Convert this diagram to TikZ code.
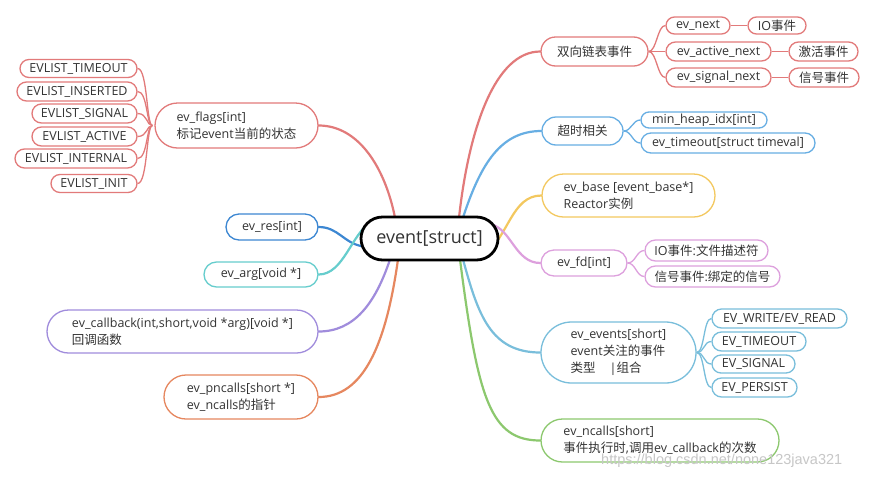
\documentclass[tikz,border=0pt]{standalone}
\usepackage{fontspec}
\setmainfont{Open Sans}
\newfontfamily\cjk{Noto Sans CJK SC}
\newfontfamily\wmfont{Liberation Sans}
\pgfdeclarelayer{bg}
\pgfsetlayers{bg,main}
\definecolor{txt}{HTML}{333333}
\definecolor{cR}{HTML}{E27A7A}
\definecolor{cB}{HTML}{67AEE3}
\definecolor{cY}{HTML}{F3C85F}
\definecolor{cP}{HTML}{DDA0DD}
\definecolor{cE}{HTML}{79BEDB}
\definecolor{cG}{HTML}{8CC86E}
\definecolor{cD}{HTML}{3C87D2}
\definecolor{cT}{HTML}{66CDCD}
\definecolor{cV}{HTML}{A08CDC}
\definecolor{cO}{HTML}{E6875F}
\tikzset{
  box/.style={draw, fill=white, inner sep=0pt, align=left, text=txt,
    font=\fontsize{12.5}{17}\selectfont, line width=1.3pt},
  pill/.style 2 args={minimum width=#1pt, minimum height=#2pt, rounded corners={#2pt/2}},
  branch/.style={line width=2.2pt, line cap=round},
  twig/.style={line width=1.3pt},
}
\begin{document}
\begin{tikzpicture}[x=1pt,y=-1pt]
\useasboundingbox (0,0) rectangle (874,477);

% centre
\node[box, pill={137}{43}, line width=2.8pt, draw=black, font=\fontsize{18}{22}\selectfont] (cen) at (429.5,238.5) {event[struct]};

% left side
\node[box, draw=cR, pill={163}{45}] (flags) at (236.5,125.5) {ev\_flags[int]\\{\cjk 标记}event{\cjk 当前的状态}};
\node[box, draw=cR, pill={117}{18}] (f1) at (78.5,68.5) {EVLIST\_TIMEOUT};
\node[box, draw=cR, pill={120}{19}] (f2) at (77,91.5) {EVLIST\_INSERTED};
\node[box, draw=cR, pill={105}{19}] (f3) at (84.5,113.5) {EVLIST\_SIGNAL};
\node[box, draw=cR, pill={105}{19}] (f4) at (84.5,136.5) {EVLIST\_ACTIVE};
\node[box, draw=cR, pill={122}{19}] (f5) at (76,158.5) {EVLIST\_INTERNAL};
\node[box, draw=cR, pill={86}{18}] (f6) at (94,183.5) {EVLIST\_INIT};

\node[box, draw=cD, pill={92}{26}] (res) at (272,227) {ev\_res[int]};
\node[box, draw=cT, pill={114}{25}] (arg) at (261,274.5) {ev\_arg[void *]};
\node[box, draw=cV, pill={271}{43}] (cb) at (182.5,331.5) {ev\_callback(int,short,void *arg)[void *]\\{\cjk 回调函数}};
\node[box, draw=cO, pill={154}{44}] (pn) at (241,397) {ev\_pncalls[short *]\\ev\_ncalls{\cjk 的指针}};

% right side
\node[box, draw=cR, pill={107}{29}] (dl) at (594.5,51.5) {{\cjk 双向链表事件}};
\node[box, draw=cR, pill={64}{17}] (n1) at (698,25.5) {ev\_next};
\node[box, draw=cR, pill={58}{17}] (m1) at (777,25.5) {IO{\cjk 事件}};
\node[box, draw=cR, pill={105}{19}] (n2) at (718.5,51.5) {ev\_active\_next};
\node[box, draw=cR, pill={69}{19}] (m2) at (823.5,51.5) {{\cjk 激活事件}};
\node[box, draw=cR, pill={105}{19}] (n3) at (718.5,77.5) {ev\_signal\_next};
\node[box, draw=cR, pill={70}{19}] (m3) at (824,77.5) {{\cjk 信号事件}};

\node[box, draw=cB, pill={81}{28}] (to) at (582.5,131) {{\cjk 超时相关}};
\node[box, draw=cB, pill={126}{16}] (to1) at (704,120) {min\_heap\_idx[int]};
\node[box, draw=cB, pill={174}{20}] (to2) at (728,143) {ev\_timeout[struct timeval]};

\node[box, draw=cY, pill={173}{43}] (base) at (628.5,195.5) {ev\_base [event\_base*]\\Reactor{\cjk 实例}};

\node[box, draw=cP, pill={86}{26}] (fd) at (584,263) {ev\_fd[int]};
\node[box, draw=cP, pill={123}{21}] (fd1) at (706.5,250.5) {IO{\cjk 事件}:{\cjk 文件描述符}};
\node[box, draw=cP, pill={135}{21}] (fd2) at (712.5,276.5) {{\cjk 信号事件}:{\cjk 绑定的信号}};

\node[box, draw=cE, pill={155}{61}] (ev) at (618.5,352.5) {ev\_events[short]\\event{\cjk 关注的事件}\\{\cjk 类型}\hspace{14pt}|{\cjk 组合}};
\node[box, draw=cE, pill={135}{19}] (e1) at (779.5,318.5) {EV\_WRITE/EV\_READ};
\node[box, draw=cE, pill={94}{19}] (e2) at (759,341.5) {EV\_TIMEOUT};
\node[box, draw=cE, pill={83}{18}] (e3) at (753.5,364) {EV\_SIGNAL};
\node[box, draw=cE, pill={85}{19}] (e4) at (754.5,387.5) {EV\_PERSIST};

\node[box, draw=cG, pill={238}{43}] (nc) at (660,440.5) {ev\_ncalls[short]\\{\cjk 事件执行时},{\cjk 调用}ev\_callback{\cjk 的次数}};

\node[text=black!22, font=\wmfont\fontsize{14.5}{16}\selectfont, anchor=base west, inner sep=0pt] (wm) at (601,464) {https://blog.csdn.net/none123java321};

\begin{pgfonlayer}{bg}
\fill[white] (0,0) rectangle (874,477);
% main branches
\draw[branch, cR] ([xshift=-34.5pt,yshift=-2pt]cen.north) .. controls +(-10,-50) and +(40,0) .. (flags.east);
\draw[branch, cR] ([xshift=29.5pt,yshift=-2pt]cen.north) .. controls +(10,-90) and +(-45,0) .. (dl.west);
\draw[branch, cB] ([xshift=33.5pt,yshift=-2pt]cen.north) .. controls +(18,-55) and +(-40,0) .. (to.west);
\draw[branch, cY] ([xshift=54pt,yshift=-17pt]cen.center) .. controls +(25,-18) and +(-30,0) .. (base.west);
\draw[branch, cP] ([xshift=62pt,yshift=14pt]cen.center) .. controls +(20,5) and +(-25,0) .. (fd.west);
\draw[branch, cE] ([xshift=33.5pt,yshift=2pt]cen.south) .. controls +(15,55) and +(-50,0) .. (ev.west);
\draw[branch, cG] ([xshift=30.5pt,yshift=2pt]cen.south) .. controls +(18,140) and +(-50,0) .. (nc.west);
\draw[branch, cD] ([xshift=-66pt,yshift=-8pt]cen.center) .. controls +(-20,-3) and +(20,0) .. (res.east);
\draw[branch, cT] ([xshift=-58pt,yshift=17pt]cen.center) .. controls +(-20,12) and +(25,0) .. (arg.east);
\draw[branch, cV] ([xshift=-39.5pt,yshift=2pt]cen.south) .. controls +(-15,45) and +(35,0) .. (cb.east);
\draw[branch, cO] ([xshift=-31.5pt,yshift=2pt]cen.south) .. controls +(-12,85) and +(45,0) .. (pn.east);
% twigs
\foreach \c in {f1,f2,f3,f4,f5,f6}
  \draw[twig, cR] ([xshift=-2pt]flags.west) .. controls +(-6,0) and +(10,0) .. (\c.east);
\foreach \c in {n1,n2,n3}
  \draw[twig, cR] (dl.east) .. controls +(8,0) and +(-8,0) .. (\c.west);
\draw[twig, cR] (n1.east) -- (m1.west);
\draw[twig, cR] (n2.east) -- (m2.west);
\draw[twig, cR] (n3.east) -- (m3.west);
\foreach \c in {to1,to2}
  \draw[twig, cB] (to.east) .. controls +(8,0) and +(-8,0) .. (\c.west);
\foreach \c in {fd1,fd2}
  \draw[twig, cP] (fd.east) .. controls +(8,0) and +(-8,0) .. (\c.west);
\foreach \c in {e1,e2,e3,e4}
  \draw[twig, cE] (ev.east) .. controls +(8,0) and +(-8,0) .. (\c.west);
\end{pgfonlayer}
\end{tikzpicture}
\end{document}
